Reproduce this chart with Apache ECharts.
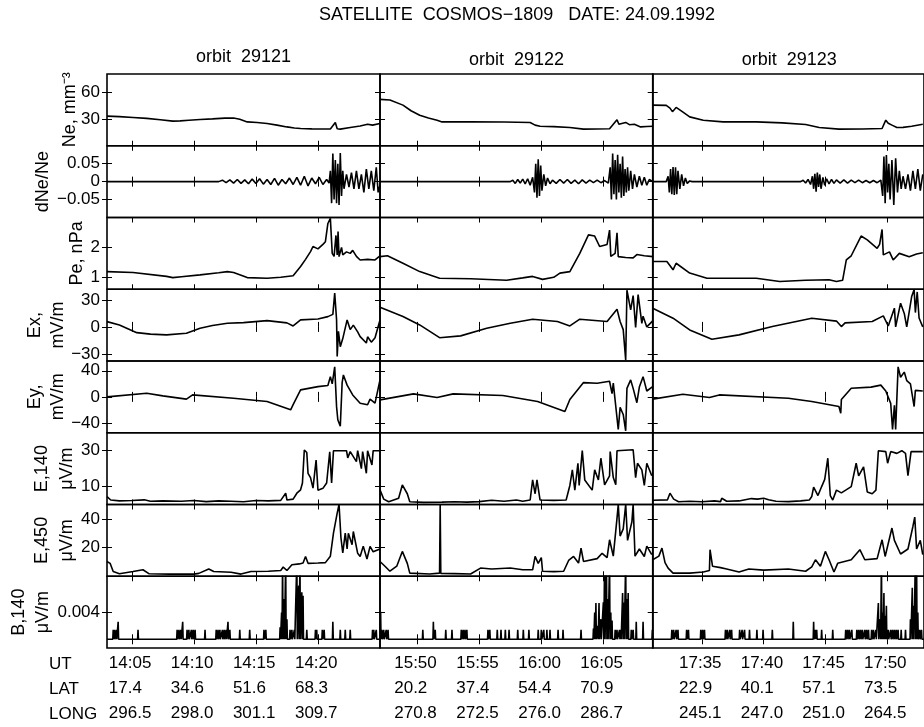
<!DOCTYPE html>
<html><head><meta charset="utf-8">
<script src="https://cdn.jsdelivr.net/npm/echarts@6/dist/echarts.min.js"></script>
<style>html,body{margin:0;padding:0;background:#fff}#c{width:924px;height:727px}</style>
</head><body><div id="c"></div>
<script>
// ---------- text / labels ----------
const titleText = 'SATELLITE  COSMOS\u22121809   DATE: 24.09.1992';
const orbitLabels = ['orbit  29121', 'orbit  29122', 'orbit  29123'];
const colStartUT = ['14:03', '15:47', '17:31'];
const utLabels = [['14:05','14:10','14:15','14:20'],['15:50','15:55','16:00','16:05'],['17:35','17:40','17:45','17:50']];
const latLabels = [['17.4','34.6','51.6','68.3'],['20.2','37.4','54.4','70.9'],['22.9','40.1','57.1','73.5']];
const longLabels = [['296.5','298.0','301.1','309.7'],['270.8','272.5','276.0','286.7'],['245.1','247.0','251.0','264.5']];
const rowHeaders = ['UT', 'LAT', 'LONG'];
const yNames = [['Ne, mm\u207B\u00B3'],['dNe/Ne'],['Pe, nPa'],['Ex,','mV/m'],['Ey,','mV/m'],['E,140','\u03BCV/m'],['E,450','\u03BCV/m'],['B,140','\u03BCV/m']];

// y-axis ranges, ticks and tick labels
const neRange = [0, 80],        neTicks = [30, 60],             neTickLabels = ['30','60'];
const dneRange = [-0.1, 0.1],   dneTicks = [-0.05, 0, 0.05],    dneTickLabels = ['\u22120.05','0','0.05'];
const peRange = [0.6, 3],       peTicks = [1, 2],               peTickLabels = ['1','2'];
const exRange = [-38, 42],      exTicks = [-30, 0, 30],         exTickLabels = ['\u221230','0','30'];
const eyRange = [-55, 55],      eyTicks = [-40, 0, 40],         eyTickLabels = ['\u221240','0','40'];
const e140Range = [0, 40],      e140Ticks = [10, 30],           e140TickLabels = ['10','30'];
const e450Range = [0, 50],      e450Ticks = [20, 40],           e450TickLabels = ['20','40'];
const b140Range = [-0.0013, 0.0094], b140Ticks = [0.004],       b140TickLabels = ['0.004'];

// ---------- data: [minutes after column start, value] ----------
const ne_c1 = [[0,33],[1,32.5],[2.1,31.5],[3.2,30.5],[4.3,29],[5.3,27.5],[5.9,27.7],[6.6,28.5],[7.5,29.3],[8.5,30],[9.5,30.8],[10.2,31],[10.7,29.5],[11.3,26.6],[12.1,26],[12.9,24.8],[13.7,23],[14.5,21],[15.1,19.8],[15.6,19.2],[16.5,18.8],[17.5,18.6],[18,18.8],[18.15,19.5],[18.4,26],[18.55,19],[18.8,18.5],[19.6,20.3],[20.4,22],[21,24],[21.4,23],[22,24.8]];
const ne_c2 = [[0,51.7],[0.8,51],[1.85,45.3],[2.5,39],[3.2,34],[3.9,31],[4.6,28.5],[5,26.6],[7.3,26.6],[10,26.5],[12.1,26],[12.5,23],[12.9,21.8],[14,21.3],[15.3,20.3],[16.4,18.5],[18.5,19],[18.8,24],[19.1,29],[19.25,24],[19.4,24.8],[19.8,26],[20.1,23.5],[20.5,24],[21,21],[21.5,21.5],[22,21.8]];
const ne_c3 = [[0,45.3],[1.1,45],[1.4,42],[1.6,38],[1.9,42.7],[2.4,38],[3,32.2],[4.1,28.5],[5.7,26.6],[8.4,26.6],[10.5,25.5],[12.4,23.7],[13.5,20.3],[15.1,18.5],[17,18.7],[18.6,19.2],[18.9,28.5],[19.1,25],[19.4,23],[19.8,20.3],[20.3,20.5],[21,21.8],[21.9,24]];

const dne_c1 = [[0,0],[9,0],[9.3,0.004],[9.6,-0.003],[9.9,0.005],[10.2,-0.004],[10.5,0.006],[10.8,-0.005],[11.1,0.005],[11.4,-0.006],[11.7,0.007],[12,-0.005],[12.3,0.008],[12.6,-0.007],[12.9,0.006],[13.2,-0.008],[13.5,0.009],[13.8,-0.01],[14.1,0.006],[14.4,-0.006],[14.7,0.01],[15,-0.008],[15.3,0.012],[15.6,-0.01],[15.9,0.015],[16.2,-0.012],[16.5,0.01],[16.8,-0.006],[17.1,0.012],[17.4,-0.008],[17.7,0.006],[17.9,-0.004],[18,0.03],[18.1,-0.06],[18.2,0.078],[18.3,-0.05],[18.4,0.06],[18.5,-0.06],[18.6,0.05],[18.7,-0.065],[18.8,0.08],[18.9,-0.04],[19,0.03],[19.1,-0.02],[19.3,0.02],[19.5,-0.015],[19.7,0.025],[19.9,-0.02],[20.1,0.03],[20.3,-0.02],[20.5,0.02],[20.7,-0.03],[20.9,0.035],[21.1,-0.02],[21.3,0.03],[21.5,-0.025],[21.7,0.04],[21.85,-0.03],[22,-0.01]];
const dne_c2 = [[0,0],[10.5,0],[10.7,0.004],[10.9,-0.005],[11.1,0.006],[11.3,-0.004],[11.5,0.007],[11.7,-0.006],[11.9,0.008],[12.1,-0.01],[12.3,0.012],[12.45,-0.03],[12.55,0.05],[12.65,-0.045],[12.75,0.062],[12.85,-0.04],[12.95,0.045],[13.05,-0.025],[13.2,0.02],[13.35,-0.012],[13.5,0.01],[13.7,-0.006],[13.9,0.004],[14.2,-0.005],[14.5,0.006],[14.8,-0.004],[15.1,0.006],[15.4,-0.005],[15.7,0.004],[16,-0.006],[16.3,0.005],[16.6,-0.004],[16.9,0.004],[17.2,-0.003],[17.5,0.004],[17.8,-0.003],[18.1,0.003],[18.4,-0.004],[18.55,0.04],[18.65,-0.05],[18.75,0.078],[18.85,-0.035],[18.95,0.06],[19.05,-0.05],[19.15,0.075],[19.25,-0.03],[19.35,0.05],[19.45,-0.045],[19.55,0.07],[19.65,-0.04],[19.75,0.035],[19.85,-0.03],[19.95,0.04],[20.05,-0.025],[20.2,0.03],[20.35,-0.02],[20.5,0.02],[20.7,-0.015],[20.9,0.015],[21.1,-0.01],[21.3,0.012],[21.5,-0.01],[21.7,0.006],[22,0]];
const dne_c3 = [[0,0],[1.1,0],[1.25,0.015],[1.35,-0.03],[1.45,0.035],[1.55,-0.035],[1.65,0.041],[1.75,-0.037],[1.85,0.04],[1.95,-0.035],[2.05,0.03],[2.2,-0.02],[2.35,0.02],[2.5,-0.012],[2.65,0.01],[2.8,-0.005],[3,0.002],[3.2,0],[12,0],[12.2,0.004],[12.4,-0.004],[12.6,0.006],[12.8,-0.008],[12.95,0.015],[13.05,-0.02],[13.15,0.022],[13.25,-0.028],[13.35,0.025],[13.45,-0.015],[13.55,0.02],[13.65,-0.02],[13.8,0.012],[13.95,-0.01],[14.1,0.008],[14.3,-0.006],[14.5,0.006],[14.7,-0.005],[14.9,0.005],[15.2,-0.004],[15.5,0.005],[15.8,-0.004],[16.1,0.004],[16.4,-0.003],[16.7,0.004],[17,-0.003],[17.3,0.003],[17.6,-0.003],[17.9,0.003],[18.2,-0.003],[18.5,0.004],[18.65,-0.04],[18.75,0.07],[18.85,-0.06],[18.95,0.074],[19.05,-0.03],[19.15,0.05],[19.25,-0.05],[19.4,0.06],[19.55,-0.065],[19.7,0.065],[19.85,-0.03],[20,0.03],[20.15,-0.02],[20.3,0.015],[20.5,-0.02],[20.7,0.02],[20.9,-0.025],[21.1,0.03],[21.3,-0.02],[21.5,0.035],[21.7,-0.025],[21.9,0.02]];

const pe_c1 = [[0,1.19],[2.1,1.16],[4.8,1.03],[5.3,0.99],[6,1.02],[7.5,1.08],[9,1.15],[9.7,1.19],[10.2,1.16],[11.3,0.99],[12.9,0.97],[14,1.0],[15,1.05],[15.6,1.36],[16,1.6],[16.4,1.86],[16.6,2.03],[17,1.95],[17.4,2.1],[17.6,2.19],[17.8,2.8],[18,2.97],[18.15,1.8],[18.3,1.7],[18.45,2.4],[18.55,1.75],[18.62,2.53],[18.7,1.69],[18.9,2.0],[19,1.75],[19.3,1.85],[19.6,1.8],[19.8,1.9],[20.1,1.7],[20.4,1.58],[21,1.6],[21.6,1.58],[22,1.72]];
const pe_c2 = [[0,1.69],[0.6,1.72],[1.85,1.47],[3.2,1.19],[4.8,0.97],[7.3,0.95],[10.2,0.9],[11.5,0.98],[12.3,1.03],[13.1,0.93],[14,1.0],[14.5,1.14],[15.3,1.19],[16.1,1.8],[16.8,2.42],[17.3,2.38],[17.7,2.03],[18.3,2.1],[18.5,2.58],[18.6,1.7],[18.95,1.8],[19.1,2.49],[19.2,1.69],[19.8,1.66],[20.4,1.65],[20.7,1.76],[21.3,1.72],[22,1.69]];
const pe_c3 = [[0,1.53],[1.15,1.53],[1.65,1.25],[1.9,1.47],[3,1.14],[4.4,0.97],[8.4,0.97],[10.3,0.86],[12.4,0.9],[14.3,0.92],[14.9,0.86],[15.4,0.9],[15.7,1.58],[16.1,1.72],[16.9,2.38],[17.4,2.25],[18.2,1.97],[18.4,2.1],[18.6,2.6],[18.7,1.75],[19.2,1.85],[19.5,1.58],[20,1.8],[20.8,1.69],[21.4,1.78],[21.9,1.82]];

const ex_c1 = [[0,5.9],[1,2.2],[2.4,-6.4],[3.5,-8],[4.8,-8.9],[6.4,-7],[7.5,-1.5],[8.5,1.5],[9.7,4.1],[11,4.8],[12.9,7],[14.5,4.5],[15,1.1],[15.6,7.8],[17,8.9],[17.8,11.5],[18.2,14],[18.35,37.7],[18.5,8],[18.55,-33],[18.65,-5],[18.8,-22],[19,-13],[19.35,7.8],[19.6,-3],[19.85,2],[20.2,-5.5],[20.4,-10.8],[20.9,-18],[21,-11],[21.3,-17],[21.6,-12],[22,7.8]];
const ex_c2 = [[0,22],[1.85,11.6],[3.2,2.2],[4.8,-12],[6.5,-10],[8.6,-1.5],[10.5,4],[12.3,8.6],[14.3,6],[15.3,1.1],[16.1,8.6],[18.3,6],[19.1,19.8],[19.35,6],[19.6,-3],[19.8,-37],[19.9,41],[20.2,19],[20.4,35],[20.6,-0.5],[20.8,36],[21.1,4],[21.2,12],[21.5,0],[22,7]];
const ex_c3 = [[0,20.9],[1.65,9.7],[3,-3.4],[4.8,-13.8],[7,-8.9],[9.7,0.4],[12.9,9.7],[14.9,6.5],[15.3,0.4],[15.6,4.5],[17.8,6],[18.7,12.3],[19.1,1],[19.6,20.9],[19.7,0],[20.1,26.5],[20.4,15],[20.6,0],[21,33.9],[21.2,41.6],[21.3,16],[21.45,39],[21.6,10],[21.9,0]];

const ey_c1 = [[0,0],[3.2,5.6],[4.5,1.5],[6.4,-3.5],[6.9,3],[10.2,-2],[12.9,-7.1],[14.8,-19.9],[15,-12],[15.6,10.7],[17,15.7],[17.8,17.5],[18,31],[18.15,20],[18.35,46],[18.5,-15],[18.6,-35],[18.8,-45],[18.95,22],[19.05,33.6],[19.35,18],[19.8,3],[20.4,-9.7],[21,-12],[21.2,-3.5],[21.6,-9.7],[22,26]];
const ey_c2 = [[0,-4.6],[2.7,4.6],[4.6,-1],[5.9,4.6],[9.9,2],[12.7,-7.1],[14.9,-22.4],[15.3,-4],[16.4,21.9],[17.5,21],[18.5,24],[18.7,5],[18.8,21],[19.2,-50],[19.35,-16],[19.6,-27],[19.8,-52],[19.9,13],[20.2,26],[20.4,13],[20.7,-9],[20.9,15],[21.2,31],[21.5,9],[22,16]];
const ey_c3 = [[0,-3.5],[2.45,4.1],[4.6,-1],[5.4,3],[11,-2],[12.9,-7.1],[15.1,-14.8],[15.25,-25],[15.3,-4],[16.1,13.2],[17.7,15],[18.5,18],[18.9,9],[19.3,-10],[19.45,-50],[19.6,-13],[19.7,-50],[19.9,46],[20.1,30],[20.4,38],[20.6,25],[20.9,20],[21.2,-14.8],[21.3,10],[21.9,9]];

const e140_c1 = [[0,4.4],[0.3,2.5],[1,2],[2,2.2],[3,2.6],[3.5,1.8],[4.5,2],[6,1.8],[7,2.2],[8,1.6],[9,2],[10,1.8],[11,1.5],[12,2.2],[13,2],[14,2.3],[14.4,6.3],[14.5,2.5],[15,3],[15.3,6.3],[15.6,8.2],[15.75,12],[15.9,30.4],[16.1,29],[16.2,17.4],[16.4,15],[16.6,9.1],[16.85,24.8],[17,8],[17.4,9],[17.7,12],[17.85,12],[17.95,29.4],[18.1,12],[18.25,30],[19.3,30],[19.4,26],[19.6,29.5],[20.1,23.9],[20.2,30],[20.5,20],[20.6,29.5],[20.9,17.4],[21,30],[21.35,22],[21.45,30],[22,30]];
const e140_c2 = [[0,8.2],[0.3,3],[0.7,1.5],[1.5,3.5],[1.8,10.9],[2.2,6],[2.4,1.5],[3.5,1.2],[5,1.3],[6,1.5],[7,1.3],[8,1.6],[9,2.4],[10,1.8],[11,2.5],[11.5,1.8],[12.1,2.5],[12.3,13.7],[12.5,6],[12.65,13.7],[12.9,2.5],[14,2.3],[15,2.5],[15.3,10.6],[15.5,19.3],[15.7,8],[15.95,23],[16.05,10.6],[16.3,30],[16.5,13.7],[17.1,8],[17.3,19.3],[17.6,13.7],[17.8,25.8],[18.1,11],[18.5,16],[18.55,29.5],[18.8,15],[19,11],[19.1,30],[20.4,30.5],[20.6,15],[20.75,23],[21.1,19.3],[21.3,10.6],[21.5,23],[21.9,16]];
const e140_c3 = [[0,2.4],[1.2,2.6],[1.4,6.3],[1.7,3],[2.1,1.5],[3,1.8],[4,1.5],[5,2],[5.5,1.6],[5.6,3.5],[6,1.8],[7,2],[7.6,2.8],[8,3.3],[8.5,3],[9,3.5],[9.4,2.7],[10,1.8],[11,1.6],[12,2],[12.7,2.5],[12.9,4.5],[13.05,9.7],[13.4,5],[13.7,10],[13.95,14],[14.2,25.8],[14.4,5],[14.6,2.5],[14.9,8],[15.3,6.5],[16.1,10],[16.5,23],[16.7,16],[17.1,21],[17.4,7],[17.8,6],[18.1,8],[18.3,30],[18.9,29.5],[19.05,23],[19.3,29.5],[19.8,28.5],[20.2,30],[20.5,28.5],[20.7,16.1],[20.95,29.5],[21.9,29.5]];

const e450_c1 = [[0,10.3],[0.25,9],[0.5,3.3],[1,1.8],[2.1,3.3],[2.9,4.5],[3.4,1.7],[5,1.5],[7,1.5],[7.4,2],[8.2,5],[8.6,3.3],[10,2.8],[10.8,1.5],[11.6,3.3],[13,3.5],[14,4],[14.2,6.4],[14.5,4],[14.9,8],[15.5,8.6],[15.8,9.2],[16,13.8],[16.2,9],[17,9.2],[17.6,9.5],[18,14],[18.25,30],[18.55,44],[18.7,50],[18.85,27],[19,16.2],[19.2,30],[19.35,19],[19.45,30],[19.75,22],[19.85,31.2],[20.2,16],[20.4,13.8],[20.65,21],[20.95,12],[21.2,20.8],[21.45,17],[22,19]];
const e450_c2 = [[0,10.3],[0.4,7],[0.8,3.5],[1.35,7],[1.8,17.3],[2.2,9],[2.4,2.2],[4,1.6],[4.8,2.2],[4.85,50],[4.9,2],[6,1.8],[7.3,1.6],[8.1,5.7],[9,5],[10.5,5.7],[11.5,4.5],[12.3,4.5],[12.5,13.8],[12.75,9],[13,13],[13.1,3.5],[14,3.2],[14.8,3.5],[15.2,11],[15.6,13.8],[16,9.2],[16.2,19.6],[16.4,10.3],[17.5,12.3],[17.9,16],[18.3,13],[18.5,25.4],[18.8,14],[19.1,40.5],[19.2,50],[19.35,28],[19.6,33],[19.8,50],[19.95,25],[20.3,38],[20.4,50],[20.55,14],[20.9,19],[21.3,13.8],[21.5,21],[21.9,15]];
const e450_c3 = [[0,11.5],[0.5,14],[0.75,19.6],[1,9.5],[1.25,5.7],[1.65,2.2],[3,2.2],[4.1,3],[4.6,4],[4.65,18.5],[4.85,7],[5.5,6],[6,5],[7,3],[7.8,5],[9,4.3],[11,5],[12.4,3.5],[12.9,6.5],[13.2,11.5],[13.6,7],[14,17.3],[14.3,11.5],[14.7,3],[15,9],[16.1,11.5],[16.8,18.5],[17.2,11.5],[18.2,12.3],[18.6,25.4],[18.85,13.8],[19.4,33.6],[19.6,25],[20.1,15.5],[20.7,19],[21.1,34.7],[21.25,41.2],[21.4,19],[21.7,25],[21.9,15]];

// B,140: spikes [minutes after column start, height] on a zero baseline
const b140_c1 = [[0.5,0.0014],[0.6,0.0014],[0.75,0.0014],[0.9,0.0026],[2.5,0.0014],[5.65,0.0014],[5.8,0.0014],[5.95,0.0014],[6.1,0.0026],[6.45,0.0014],[6.6,0.0014],[6.8,0.0014],[6.95,0.0014],[7.1,0.0014],[7.9,0.0014],[8.8,0.0014],[8.95,0.0014],[9.1,0.0014],[9.3,0.0014],[9.45,0.0014],[9.6,0.0014],[9.75,0.0026],[9.9,0.0014],[10.7,0.0014],[11.5,0.0014],[12.65,0.0014],[12.8,0.0014],[13.95,0.0018],[14.07,0.004],[14.15,0.012],[14.27,0.006],[14.4,0.012],[14.5,0.003],[14.75,0.0014],[14.9,0.0014],[15.1,0.0014],[15.3,0.012],[15.45,0.008],[15.55,0.012],[15.7,0.007],[15.8,0.0065],[16.1,0.0014],[16.8,0.0014],[16.9,0.0014],[17.35,0.0014],[17.5,0.0014],[18.2,0.0026],[18.8,0.0014],[19.2,0.0014],[19.6,0.0014],[21.4,0.0014],[21.5,0.0014],[21.7,0.0014]];
const b140_c2 = [[0.05,0.0041],[0.15,0.0014],[0.3,0.0014],[0.5,0.0014],[0.65,0.0014],[3.45,0.0014],[4.3,0.0026],[4.45,0.0014],[5.3,0.0014],[5.8,0.0014],[6.55,0.0014],[6.7,0.0014],[6.85,0.0014],[7,0.0014],[8.7,0.0014],[8.85,0.0014],[9.45,0.0014],[9.75,0.0014],[10.1,0.0014],[10.4,0.0014],[11.1,0.0014],[11.55,0.0014],[12,0.0014],[12.75,0.0014],[13,0.0014],[13.2,0.0014],[13.45,0.0014],[13.7,0.0014],[14.35,0.0014],[14.75,0.0014],[16.2,0.0014],[17.2,0.0016],[17.3,0.004],[17.4,0.0054],[17.55,0.002],[17.65,0.0054],[17.8,0.003],[18,0.0055],[18.1,0.012],[18.25,0.012],[18.35,0.006],[18.5,0.012],[18.6,0.004],[18.7,0.0028],[18.95,0.0014],[19.1,0.0014],[19.3,0.0014],[19.4,0.0014],[19.55,0.0069],[19.65,0.0055],[19.8,0.012],[19.9,0.006],[20,0.0069],[20.25,0.0014],[20.4,0.0014],[20.65,0.0026],[21.2,0.0026],[21.95,0.0014]];
const b140_c3 = [[1.55,0.0014],[1.7,0.0014],[1.9,0.0014],[2.05,0.0014],[2.75,0.0014],[2.9,0.0014],[3.9,0.0014],[4.05,0.0014],[4.2,0.0014],[5.9,0.0014],[6.05,0.0014],[6.25,0.0014],[6.4,0.0014],[7.05,0.0014],[7.25,0.0014],[7.45,0.0014],[7.85,0.0014],[8.45,0.0014],[8.95,0.0014],[9.7,0.0014],[11.4,0.0026],[13.05,0.0026],[13.2,0.0014],[13.3,0.0014],[13.7,0.0014],[14.6,0.0014],[15.65,0.0014],[15.8,0.0014],[15.95,0.0014],[16.15,0.0014],[16.55,0.0014],[16.7,0.0014],[16.85,0.0014],[17,0.0014],[17.2,0.0014],[17.35,0.0014],[17.5,0.0014],[17.75,0.0014],[17.9,0.0014],[18.1,0.0014],[18.3,0.0054],[18.45,0.003],[18.55,0.012],[18.65,0.004],[18.75,0.0069],[18.85,0.0035],[18.95,0.005],[19.1,0.0014],[19.3,0.0014],[19.45,0.0014],[19.6,0.0014],[19.75,0.0014],[19.9,0.0014],[20.15,0.0014],[20.5,0.0014],[20.9,0.003],[21.05,0.0077],[21.15,0.005],[21.3,0.012],[21.4,0.012],[21.5,0.004],[21.65,0.0014],[21.8,0.0014]];

// ---------- layout ----------
const FONT = '"Liberation Sans", Arial, Helvetica, sans-serif';
const FS = 17;
const SPAN = 22;
const colLeft = [107, 380, 652.7];
const colW = 273;
const top0 = 74, rowH = 71.75;
const yNamePos = [[70],[43],[77],[35,58],[35,58],[42,67],[42,67],[19,43]];

function toMin(s){ const p = s.split(':').map(Number); return p[0]*60 + p[1]; }
function spikes(sp){
  const out = [[0,0]];
  sp.forEach(([t,h]) => { out.push([t-0.035,0],[t,h],[t+0.035,0]); });
  out.push([SPAN,0]);
  return out;
}

const rows = [
  {range:neRange, ticks:neTicks, labels:neTickLabels, data:[ne_c1,ne_c2,ne_c3]},
  {range:dneRange, ticks:dneTicks, labels:dneTickLabels, data:[dne_c1,dne_c2,dne_c3]},
  {range:peRange, ticks:peTicks, labels:peTickLabels, data:[pe_c1,pe_c2,pe_c3]},
  {range:exRange, ticks:exTicks, labels:exTickLabels, data:[ex_c1,ex_c2,ex_c3]},
  {range:eyRange, ticks:eyTicks, labels:eyTickLabels, data:[ey_c1,ey_c2,ey_c3]},
  {range:e140Range, ticks:e140Ticks, labels:e140TickLabels, data:[e140_c1,e140_c2,e140_c3]},
  {range:e450Range, ticks:e450Ticks, labels:e450TickLabels, data:[e450_c1,e450_c2,e450_c3]},
  {range:b140Range, ticks:b140Ticks, labels:b140TickLabels, data:[spikes(b140_c1),spikes(b140_c2),spikes(b140_c3)]}
];

const grid = [], xAxis = [], yAxis = [], series = [];
const tickStyle = {color:'#000', width:1};
rows.forEach((row, r) => {
  for (let c = 0; c < 3; c++) {
    const g = grid.length;
    grid.push({left: colLeft[c], top: top0 + r*rowH, width: colW, height: rowH,
      show: true, borderColor: '#000', borderWidth: 1.6, backgroundColor: 'transparent', containLabel: false});
    const xt = utLabels[c].map(s => toMin(s) - toMin(colStartUT[c]));
    const isBottom = r === rows.length - 1;
    const xBase = {type:'value', gridIndex:g, min:0, max:SPAN, splitLine:{show:false},
      axisLine:{show:false}, axisTick:{show:true, inside:true, length:5, customValues:xt, lineStyle:tickStyle}};
    xAxis.push(Object.assign({}, xBase, {position:'bottom',
      axisLabel: isBottom ? {show:true, customValues:xt, margin:3, color:'#000',
        formatter: v => { const i = xt.findIndex(x => Math.abs(x - v) < 1e-6); if (i < 0) return '';
          return '{a|' + utLabels[c][i] + '}\n{a|' + latLabels[c][i] + '}\n{a|' + longLabels[c][i] + '}'; },
        rich: {a: {width: 46, align: 'left', fontSize: FS, fontFamily: FONT, color: '#000', lineHeight: 25}}}
        : {show:false}}));
    xAxis.push(Object.assign({}, xBase, {position:'top', axisLabel:{show:false}}));
    const yBase = {type:'value', gridIndex:g, min:row.range[0], max:row.range[1], splitLine:{show:false},
      axisLine:{show:false}, axisTick:{show:true, inside:true, length:5, customValues:row.ticks, lineStyle:tickStyle}};
    yAxis.push(Object.assign({}, yBase, {position:'left',
      axisLabel: c === 0 ? {show:true, customValues:row.ticks, margin:7, color:'#000', fontSize:FS, fontFamily:FONT,
        formatter: v => { const i = row.ticks.findIndex(x => Math.abs(x - v) < 1e-9); return i < 0 ? '' : row.labels[i]; }}
        : {show:false}}));
    yAxis.push(Object.assign({}, yBase, {position:'right', axisLabel:{show:false}}));
    series.push({type:'line', xAxisIndex: 2*g, yAxisIndex: 2*g, data: row.data[c], showSymbol:false, symbol:'none',
      clip:true, lineStyle:{color:'#000', width:1.6}, silent:true, animation:false});
  }
});

const graphic = [];
graphic.push({type:'text', x:517, y:15, style:{text:titleText, fontSize:18, fontFamily:FONT, fill:'#000', align:'center', verticalAlign:'middle'}});
const orbitY = [57, 60, 60];
orbitLabels.forEach((t, c) => graphic.push({type:'text', x: colLeft[c] + colW/2, y: orbitY[c],
  style:{text:t, fontSize:18, fontFamily:FONT, fill:'#000', align:'center', verticalAlign:'middle'}}));
yNames.forEach((lines, r) => {
  lines.forEach((t, k) => graphic.push({type:'text', x: yNamePos[r][k], y: top0 + r*rowH + rowH/2, rotation: Math.PI/2,
    style:{text:t, fontSize:18, fontFamily:FONT, fill:'#000', align:'center', verticalAlign:'middle'}}));
});
const headY = [664, 689, 714];
rowHeaders.forEach((t, i) => graphic.push({type:'text', x:49, y:headY[i],
  style:{text:t, fontSize:FS, fontFamily:FONT, fill:'#000', align:'left', verticalAlign:'middle'}}));

const chart = echarts.init(document.getElementById('c'), null, {renderer:'canvas'});
chart.setOption({animation:false, backgroundColor:'#fff', grid, xAxis, yAxis, series, graphic});
</script></body></html>
